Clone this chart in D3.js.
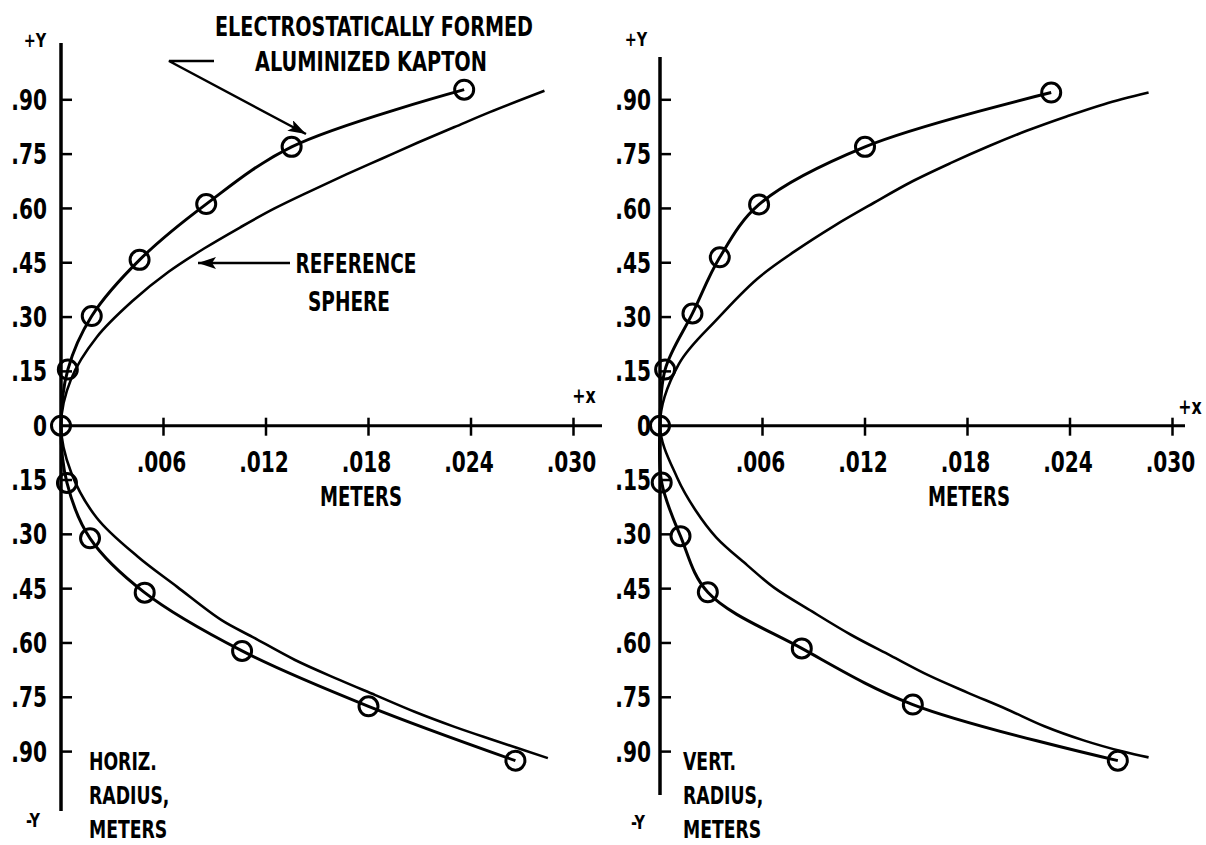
<!DOCTYPE html>
<html>
<head>
<meta charset="utf-8">
<script src="https://cdn.jsdelivr.net/npm/d3@7"></script>
<style>
  body { margin: 0; background: #fff; }
  text {
    font-family: "DejaVu Sans Condensed", "Liberation Sans Narrow", "DejaVu Sans", sans-serif;
    font-stretch: condensed;
    font-weight: bold;
    fill: #000;
  }
</style>
</head>
<body>
<script>
// chart size
var svgWidth = 1206;
var svgHeight = 845;

// tick values and labels
var xTicks = [0.006, 0.012, 0.018, 0.024, 0.030];
var xTickLabels = [".006", ".012", ".018", ".024", ".030"];
var yTicks = [0.90, 0.75, 0.60, 0.45, 0.30, 0.15, 0, -0.15, -0.30, -0.45, -0.60, -0.75, -0.90];
var yTickLabels = [".90", ".75", ".60", ".45", ".30", ".15", "0", ".15", ".30", ".45", ".60", ".75", ".90"];

// horizontal radius - measured (electrostatically formed kapton), x and y in meters
var horizX = [0.0266, 0.0180, 0.0106, 0.0049, 0.0017, 0.00035, 0, 0.0004, 0.0018, 0.0046, 0.0085, 0.0135, 0.0236];
var horizY = [-0.925, -0.775, -0.622, -0.461, -0.311, -0.158, 0, 0.155, 0.303, 0.458, 0.612, 0.770, 0.928];

// horizontal radius - reference sphere
var refHorizX = [0.0285, 0.0253, 0.0230, 0.0207, 0.0184, 0.0163, 0.0137, 0.0112, 0.0094, 0.0068, 0.0045, 0.0021, 0.0006, 0,
                 0.0006, 0.0021, 0.0042, 0.0063, 0.0084, 0.0105, 0.0125, 0.0146, 0.0167, 0.0188, 0.0209, 0.0230, 0.0251, 0.0283];
var refHorizY = [-0.918, -0.868, -0.831, -0.790, -0.744, -0.702, -0.647, -0.583, -0.537, -0.445, -0.362, -0.255, -0.13, 0,
                 0.13, 0.245, 0.345, 0.425, 0.490, 0.548, 0.600, 0.648, 0.694, 0.738, 0.782, 0.824, 0.866, 0.925];

// vertical radius - measured
var vertX = [0.0268, 0.0148, 0.0083, 0.0028, 0.0012, 0.0001, 0, 0.0003, 0.0019, 0.0035, 0.0058, 0.0120, 0.0229];
var vertY = [-0.925, -0.770, -0.615, -0.460, -0.305, -0.157, 0, 0.155, 0.310, 0.465, 0.611, 0.770, 0.920];

// vertical radius - reference sphere
var refVertX = [0.0286, 0.0271, 0.0248, 0.0225, 0.0203, 0.0180, 0.0157, 0.0135, 0.0112, 0.0089, 0.0067, 0.0051, 0.0033, 0.0021, 0.0010, 0,
                0.0011, 0.0034, 0.0057, 0.0079, 0.0102, 0.0125, 0.0147, 0.0170, 0.0193, 0.0215, 0.0238, 0.0260, 0.0286];
var refVertY = [-0.916, -0.900, -0.869, -0.830, -0.783, -0.737, -0.689, -0.635, -0.578, -0.513, -0.448, -0.385, -0.309, -0.235, -0.143, 0,
                0.17, 0.297, 0.406, 0.482, 0.552, 0.615, 0.673, 0.725, 0.773, 0.815, 0.854, 0.888, 0.920];

var svg = d3.select("body")
  .append("svg")
  .attr("width", svgWidth)
  .attr("height", svgHeight);

svg.append("rect")
  .attr("width", svgWidth)
  .attr("height", svgHeight)
  .attr("fill", "#fff");

// arrow head
svg.append("defs").append("marker")
  .attr("id", "arrow")
  .attr("markerUnits", "userSpaceOnUse")
  .attr("markerWidth", 20)
  .attr("markerHeight", 12)
  .attr("refX", 18)
  .attr("refY", 6)
  .attr("orient", "auto")
  .append("path")
  .attr("d", "M0,0 L18,6 L0,12 L4,6 z")
  .attr("fill", "#000");

// narrow text: the original lettering is a tall condensed face
var squeeze = 0.8;
function label(parent, x, y, txt, size, anchor) {
  return parent.append("text")
    .attr("transform", `translate(${x},${y}) scale(${squeeze},1)`)
    .attr("dy", "0.36em")
    .attr("text-anchor", anchor || "start")
    .attr("font-size", size)
    .text(txt);
}

// shared y scale
var yScale = d3.scaleLinear()
  .domain([-0.90, 0.90])
  .range([751.6, 99.8]);

function zip(xs, ys) {
  return xs.map((x, i) => [x, ys[i]]);
}

function drawPanel(p) {
  var xScale = d3.scaleLinear()
    .domain([0, 0.030])
    .range([p.x0, p.x0 + 512.5]);

  var g = svg.append("g");

  // axes
  g.append("line")
    .attr("x1", xScale(0)).attr("x2", xScale(0))
    .attr("y1", p.yTop).attr("y2", p.yBottom)
    .attr("stroke", "#000").attr("stroke-width", 3.5);

  g.append("line")
    .attr("x1", xScale(0)).attr("x2", p.xEnd)
    .attr("y1", yScale(0)).attr("y2", yScale(0))
    .attr("stroke", "#000").attr("stroke-width", 3);

  // x ticks
  g.selectAll(".xtick")
    .data(xTicks)
    .enter()
    .append("line")
    .attr("x1", d => xScale(d)).attr("x2", d => xScale(d))
    .attr("y1", yScale(0) - 8).attr("y2", yScale(0) + 10)
    .attr("stroke", "#000").attr("stroke-width", 2.5);

  xTicks.forEach(function(d, i) {
    label(g, xScale(d) - 2, yScale(0) + 36, xTickLabels[i], 28, "middle");
  });

  // y ticks
  g.selectAll(".ytick")
    .data(yTicks.filter(d => d !== 0))
    .enter()
    .append("line")
    .attr("x1", xScale(0)).attr("x2", xScale(0) + 11)
    .attr("y1", d => yScale(d)).attr("y2", d => yScale(d))
    .attr("stroke", "#000").attr("stroke-width", 2.5);

  yTicks.forEach(function(d, i) {
    label(g, xScale(0) - p.labelGap, yScale(d), yTickLabels[i], 28, "end");
  });

  // axis names
  label(g, p.plusY[0], p.plusY[1], "+Y", 20, "middle");
  label(g, p.minusY[0], p.minusY[1], "-Y", 20, "middle");
  label(g, p.plusX[0], p.plusX[1], "+x", 22, "middle");
  g.append("text").attr("x", p.metersX).attr("y", 497).attr("dy", "0.36em")
    .attr("text-anchor", "middle").attr("font-size", 26)
    .attr("textLength", 82).attr("lengthAdjust", "spacingAndGlyphs")
    .text("METERS");

  // corner label
  p.corner.forEach(function(t, i) {
    label(g, p.cornerX, 761 + i * 34, t, 24, "start");
  });

  var line = d3.line()
    .x(d => xScale(d[0]))
    .y(d => yScale(d[1]))
    .curve(d3.curveCatmullRom.alpha(0.5));

  // reference sphere
  g.append("path")
    .datum(zip(p.refX, p.refY))
    .attr("d", line)
    .attr("fill", "none")
    .attr("stroke", "#000")
    .attr("stroke-width", 2.6);

  // measured surface
  g.append("path")
    .datum(zip(p.mX, p.mY))
    .attr("d", line)
    .attr("fill", "none")
    .attr("stroke", "#000")
    .attr("stroke-width", 3);

  g.selectAll(".pt")
    .data(zip(p.mX, p.mY))
    .enter()
    .append("circle")
    .attr("cx", d => xScale(d[0]))
    .attr("cy", d => yScale(d[1]))
    .attr("r", 9.5)
    .attr("fill", "none")
    .attr("stroke", "#000")
    .attr("stroke-width", 3);
}

drawPanel({
  x0: 61, xEnd: 602, yTop: 43, yBottom: 811, labelGap: 14,
  plusY: [35, 40], minusY: [33, 820], plusX: [584, 395], metersX: 361,
  corner: ["HORIZ.", "RADIUS,", "METERS"], cornerX: 89,
  mX: horizX, mY: horizY, refX: refHorizX, refY: refHorizY
});

drawPanel({
  x0: 660, xEnd: 1185, yTop: 57, yBottom: 795, labelGap: 9,
  plusY: [636, 39], minusY: [638, 822], plusX: [1190, 406], metersX: 969,
  corner: ["VERT.", "RADIUS,", "METERS"], cornerX: 683,
  mX: vertX, mY: vertY, refX: refVertX, refY: refVertY
});

// annotations
svg.append("text").attr("x", 374).attr("y", 27).attr("dy", "0.36em")
  .attr("text-anchor", "middle").attr("font-size", 26)
  .attr("textLength", 318).attr("lengthAdjust", "spacingAndGlyphs")
  .text("ELECTROSTATICALLY FORMED");
svg.append("text").attr("x", 371).attr("y", 62).attr("dy", "0.36em")
  .attr("text-anchor", "middle").attr("font-size", 26)
  .attr("textLength", 232).attr("lengthAdjust", "spacingAndGlyphs")
  .text("ALUMINIZED KAPTON");

svg.append("polyline")
  .attr("points", "214,61 169,61 306,134")
  .attr("fill", "none")
  .attr("stroke", "#000")
  .attr("stroke-width", 2.5)
  .attr("marker-end", "url(#arrow)");

svg.append("text").attr("x", 356).attr("y", 264).attr("dy", "0.36em")
  .attr("text-anchor", "middle").attr("font-size", 26)
  .attr("textLength", 121).attr("lengthAdjust", "spacingAndGlyphs")
  .text("REFERENCE");
svg.append("text").attr("x", 349).attr("y", 302).attr("dy", "0.36em")
  .attr("text-anchor", "middle").attr("font-size", 26)
  .attr("textLength", 82).attr("lengthAdjust", "spacingAndGlyphs")
  .text("SPHERE");

svg.append("line")
  .attr("x1", 290).attr("y1", 263)
  .attr("x2", 198).attr("y2", 263)
  .attr("stroke", "#000")
  .attr("stroke-width", 2.5)
  .attr("marker-end", "url(#arrow)");
</script>
</body>
</html>
